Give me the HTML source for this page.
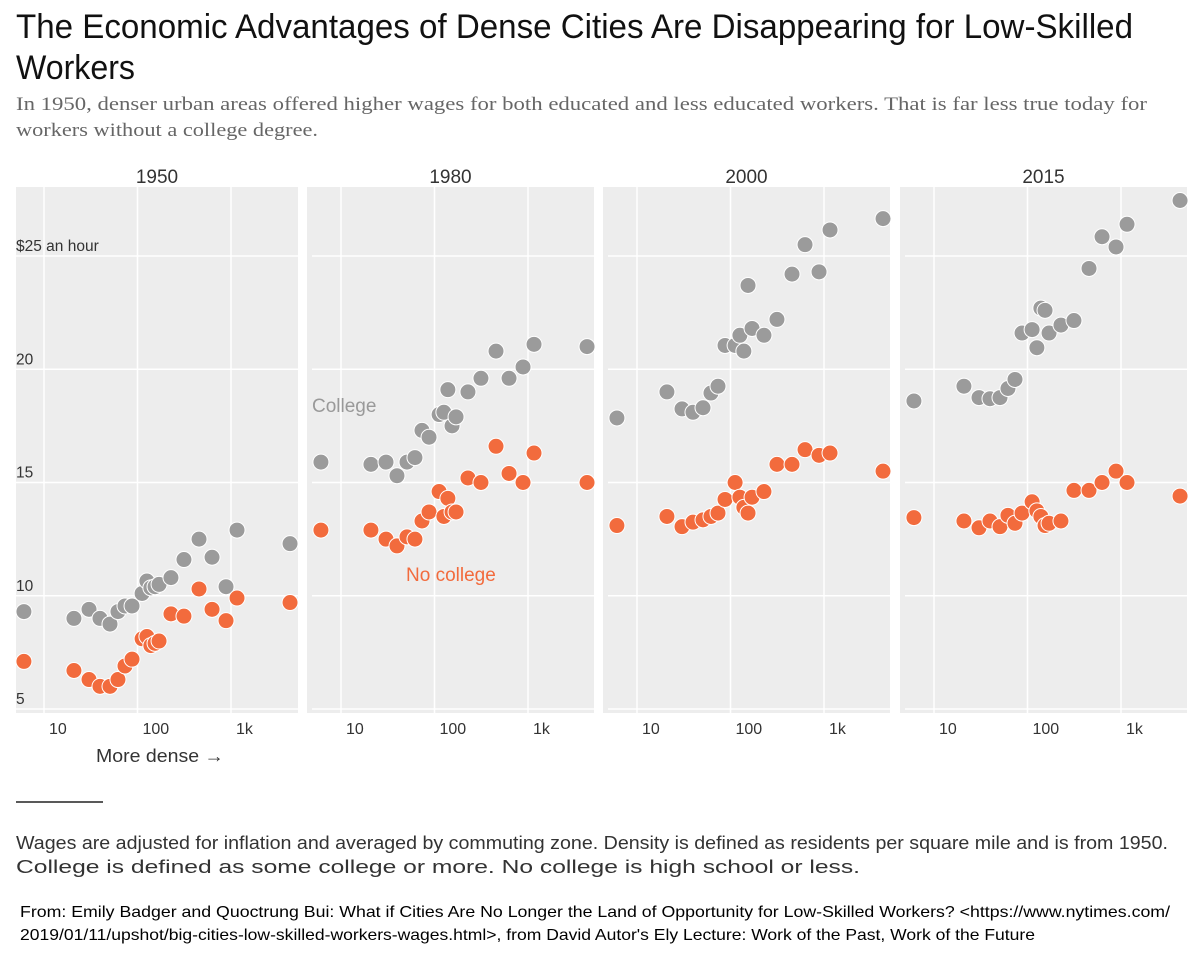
<!DOCTYPE html>
<html><head><meta charset="utf-8"><style>
html,body{margin:0;padding:0;background:#fff;}
svg{display:block;}
</style></head><body>
<svg id="chart" width="1200" height="976" xmlns="http://www.w3.org/2000/svg" font-family="Liberation Sans, sans-serif">
<text x="16" y="38" font-size="34" fill="#111" textLength="1117" lengthAdjust="spacingAndGlyphs">The Economic Advantages of Dense Cities Are Disappearing for Low-Skilled</text>
<text x="16" y="79" font-size="34" fill="#111" textLength="119" lengthAdjust="spacingAndGlyphs">Workers</text>
<text x="16" y="110" font-size="19" fill="#666" font-family="Liberation Serif, serif" textLength="1131" lengthAdjust="spacingAndGlyphs">In 1950, denser urban areas offered higher wages for both educated and less educated workers. That is far less true today for</text>
<text x="16" y="136" font-size="19" fill="#666" font-family="Liberation Serif, serif" textLength="302" lengthAdjust="spacingAndGlyphs">workers without a college degree.</text>
<g id="panels"></g>
<text x="96" y="762" font-size="18" fill="#333" textLength="128" lengthAdjust="spacingAndGlyphs">More dense →</text>
<line x1="16" y1="802" x2="103" y2="802" stroke="#222" stroke-width="1.5"/>
<text x="16" y="849" font-size="18" fill="#333" textLength="1152" lengthAdjust="spacingAndGlyphs">Wages are adjusted for inflation and averaged by commuting zone. Density is defined as residents per square mile and is from 1950.</text>
<text x="16" y="873" font-size="18" fill="#333" textLength="844" lengthAdjust="spacingAndGlyphs">College is defined as some college or more. No college is high school or less.</text>
<text x="20" y="917" font-size="16" fill="#000" textLength="1150" lengthAdjust="spacingAndGlyphs">From: Emily Badger and Quoctrung Bui: What if Cities Are No Longer the Land of Opportunity for Low-Skilled Workers? &lt;https://www.nytimes.com/</text>
<text x="20" y="940" font-size="16" fill="#000" textLength="1015" lengthAdjust="spacingAndGlyphs">2019/01/11/upshot/big-cities-low-skilled-workers-wages.html&gt;, from David Autor's Ely Lecture: Work of the Past, Work of the Future</text>
</svg>
<script>
const years = ["1950","1980","2000","2015"];
const density = [6.1,20.9,30.3,39.7,50.8,61.8,73.5,87.4,112,126,139,154,170,228,314,455,627,885,1160,4280];
const college1950 = [9.3,9.0,9.4,9.0,8.75,9.3,9.55,9.55,10.1,10.65,10.35,10.4,10.5,10.8,11.6,12.5,11.7,10.4,12.9,12.3];
const noCollege1950 = [7.1,6.7,6.3,6.0,6.0,6.3,6.9,7.2,8.1,8.2,7.8,7.9,8.0,9.2,9.1,10.3,9.4,8.9,9.9,9.7];
const college1980 = [15.9,15.8,15.9,15.3,15.9,16.1,17.3,17.0,18.0,18.1,19.1,17.5,17.9,19.0,19.6,20.8,19.6,20.1,21.1,21.0];
const noCollege1980 = [12.9,12.9,12.5,12.2,12.6,12.5,13.3,13.7,14.6,13.5,14.3,13.7,13.7,15.2,15.0,16.6,15.4,15.0,16.3,15.0];
const college2000 = [17.85,19.0,18.25,18.1,18.3,18.95,19.25,21.05,21.05,21.5,20.8,23.7,21.8,21.5,22.2,24.2,25.5,24.3,26.15,26.65];
const noCollege2000 = [13.1,13.5,13.05,13.25,13.35,13.5,13.65,14.25,15.0,14.35,13.9,13.65,14.35,14.6,15.8,15.8,16.45,16.2,16.3,15.5];
const college2015 = [18.6,19.25,18.75,18.7,18.75,19.15,19.55,21.6,21.75,20.95,22.7,22.6,21.6,21.95,22.15,24.45,25.85,25.4,26.4,27.45];
const noCollege2015 = [13.45,13.3,13.0,13.3,13.05,13.55,13.2,13.65,14.15,13.75,13.5,13.1,13.2,13.3,14.65,14.65,15.0,15.5,15.0,14.4];
const yTicks = [5,10,15,20,25];
const yTickLabels = ["5","10","15","20","$25 an hour"];
const xTicks = [10,100,1000];
const xTickLabels = ["10","100","1k"];

const collegeSeries = [college1950,college1980,college2000,college2015];
const noCollegeSeries = [noCollege1950,noCollege1980,noCollege2000,noCollege2015];
const NS = "http://www.w3.org/2000/svg";
const g = document.getElementById("panels");
const panelLeft = [16,307,603,900], panelRight = [298,594,890,1187];
const grid10 = [44,341,637,934];
const TOP = 187, BOTTOM = 713;
function yScale(v){ return 256 + (25 - v) * 22.65; }
function xScale(p, d){ return grid10[p] + (Math.log10(d) - 1) * 93.5; }
function mk(tag, attrs){ const e = document.createElementNS(NS, tag); for (const k in attrs) e.setAttribute(k, attrs[k]); return e; }

years.forEach((yr, p) => {
  const pg = mk("g", {});
  
  
  g.appendChild(pg);
  const bg = mk("rect", {x: panelLeft[p], y: TOP, width: panelRight[p]-panelLeft[p], height: BOTTOM-TOP, fill: "#ededed"});
  
  
  pg.appendChild(bg);
  const t = mk("text", {x: (panelLeft[p]+panelRight[p])/2, y: 183, "font-size": 19, fill: "#333", "text-anchor": "middle"});
  t.textContent = yr;
  
  
  pg.appendChild(t);
  yTicks.forEach((v, i) => {
    const ln = mk("line", {x1: panelLeft[p] + (p === 0 ? 0 : 5), x2: panelRight[p], y1: yScale(v), y2: yScale(v), stroke: "#fff", "stroke-width": 1.5});
    
    
    pg.appendChild(ln);
    if (p === 0) {
      const lb = mk("text", {x: 16, y: yScale(v) - 5, "font-size": 15.5, fill: "#333"});
      lb.textContent = yTickLabels[i];
      
      
      pg.appendChild(lb);
    }
  });
  xTicks.forEach((d, i) => {
    const x = xScale(p, d);
    const ln = mk("line", {x1: x, x2: x, y1: TOP, y2: BOTTOM, stroke: "#fff", "stroke-width": 1.5});
    
    
    pg.appendChild(ln);
    const lb = mk("text", {x: x + 5, y: 734, "font-size": 16, fill: "#333"});
    lb.textContent = xTickLabels[i];
    
    
    pg.appendChild(lb);
  });
  [[collegeSeries[p], "#9b9b9b", "college"], [noCollegeSeries[p], "#f26b3d", "no-college"]].forEach(([vals, col, nm]) => {
    vals.forEach((v, i) => {
      const c = mk("circle", {cx: xScale(p, density[i]), cy: yScale(v), r: 8, fill: col, stroke: "#fff", "stroke-width": 1});
      
      
      pg.appendChild(c);
    });
  });
});
const l1 = mk("text", {x: 312, y: 412, "font-size": 19, fill: "#999"});
l1.textContent = "College";


g.appendChild(l1);
const l2 = mk("text", {x: 406, y: 581, "font-size": 19, fill: "#f26b3d"});
l2.textContent = "No college";


g.appendChild(l2);
</script>
</body></html>
